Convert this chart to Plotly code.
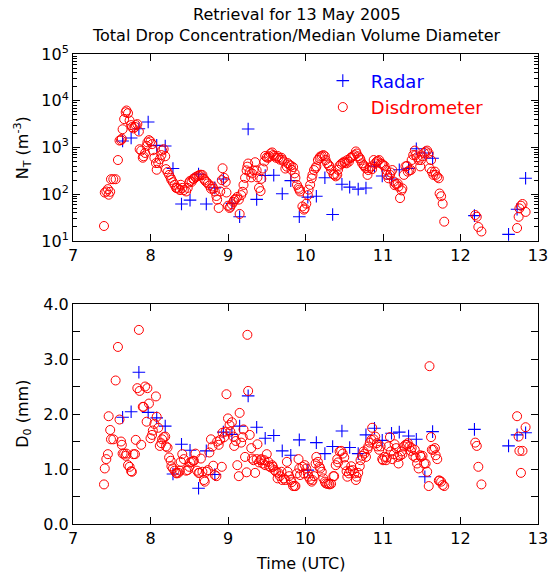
import plotly.graph_objects as go

# ---------------- data ----------------
radar_time = [7.64, 7.75, 7.85, 7.97, 8.08, 8.19, 8.29, 8.40, 8.51, 8.62,
              8.72, 8.83, 8.94, 9.05, 9.15, 9.26, 9.37, 9.48, 9.59, 9.70,
              9.81, 9.92, 10.03, 10.14, 10.25, 10.35, 10.47, 10.57, 10.68, 10.78,
              10.89, 10.99, 11.11, 11.21, 11.33, 11.43, 11.54, 11.64, 12.18, 12.62,
              12.73, 12.84]
radar_nt = [1380, 1600, 2520, 3520, 1110, 1080, 355, 62, 75, 270,
            62, 137, 212, 64, 33, 2490, 78, 253, 255, 103,
            196, 33, 87, 91, 226, 37, 164, 142, 129, 136,
            400, 246, 212, 335, 358, 945, 765, 590, 35, 13.9,
            48, 220]
radar_d0 = [1.94, 2.04, 2.76, 2.03, 1.93, 1.78, 0.91, 1.45, 1.34, 0.65,
            1.33, 0.90, 1.67, 1.63, 1.78, 2.33, 1.76, 1.56, 1.61, 1.33,
            1.25, 1.53, 0.98, 1.48, 1.28, 1.41, 1.69, 1.39, 1.28, 1.62,
            1.74, 1.52, 1.65, 1.67, 1.60, 1.54, 0.86, 1.68, 1.72, 1.42,
            1.62, 1.66]

disd_time = [
    7.40, 7.41, 7.43, 7.45, 7.46, 7.48, 7.49, 7.52, 7.55, 7.58,
    7.60, 7.62, 7.63, 7.64, 7.66, 7.68, 7.69, 7.71, 7.73, 7.75,
    7.76, 7.78, 7.80, 7.81, 7.83, 7.85, 7.86, 7.88, 7.90, 7.91,
    7.93, 7.95, 7.96, 7.98, 8.00, 8.02, 8.03, 8.05, 8.07, 8.08,
    8.10, 8.12, 8.14, 8.15, 8.17, 8.19, 8.20, 8.22, 8.24, 8.26,
    8.27, 8.29, 8.31, 8.33, 8.34, 8.36, 8.38, 8.39, 8.41, 8.43,
    8.46, 8.48, 8.50, 8.51, 8.53, 8.55, 8.56, 8.58, 8.60, 8.62,
    8.63, 8.65, 8.67, 8.69, 8.70, 8.72, 8.74, 8.76, 8.78, 8.80,
    8.81, 8.83, 8.85, 8.86, 8.88, 8.90, 8.92, 8.93, 8.95, 8.97,
    8.98, 9.00, 9.02, 9.03, 9.05, 9.07, 9.08, 9.10, 9.12, 9.14,
    9.15, 9.17, 9.19, 9.20, 9.22, 9.24, 9.25, 9.26, 9.28, 9.30,
    9.31, 9.33, 9.35, 9.37, 9.38, 9.40, 9.42, 9.43, 9.45, 9.47,
    9.48, 9.50, 9.52, 9.53, 9.55, 9.57, 9.58, 9.60, 9.62, 9.64,
    9.65, 9.67, 9.69, 9.70, 9.72, 9.74, 9.76, 9.77, 9.79, 9.81,
    9.82, 9.84, 9.86, 9.87, 9.89, 9.91, 9.92, 9.93, 9.96, 9.98,
    9.99, 10.01, 10.03, 10.04, 10.06, 10.08, 10.09, 10.11, 10.13, 10.14,
    10.16, 10.18, 10.19, 10.21, 10.23, 10.25, 10.26, 10.28, 10.30, 10.31,
    10.33, 10.36, 10.37, 10.39, 10.41, 10.42, 10.44, 10.46, 10.48, 10.50,
    10.51, 10.53, 10.54, 10.56, 10.58, 10.59, 10.61, 10.63, 10.65, 10.66,
    10.68, 10.70, 10.71, 10.73, 10.75, 10.76, 10.78, 10.80, 10.81, 10.83,
    10.85, 10.86, 10.88, 10.90, 10.92, 10.93, 10.95, 10.97, 10.99, 11.00,
    11.02, 11.04, 11.05, 11.07, 11.09, 11.10, 11.12, 11.14, 11.15, 11.17,
    11.19, 11.20, 11.22, 11.24, 11.25, 11.27, 11.29, 11.31, 11.32, 11.34,
    11.36, 11.37, 11.39, 11.41, 11.42, 11.44, 11.46, 11.48, 11.49, 11.51,
    11.53, 11.55, 11.57, 11.59, 11.60, 11.62, 11.63, 11.65, 11.67, 11.68,
    11.70, 11.72, 11.73, 11.75, 11.77, 11.79,
    12.19, 12.21, 12.23, 12.27,
    12.73, 12.75, 12.76, 12.78, 12.80, 12.84]

disd_nt = [
    21, 109, 115, 129, 98, 113, 210, 210, 210, 540,
    1410, 1440, 1540, 2460, 4050, 5700, 6200, 5430, 3780, 3020,
    2730, 2570, 2760, 3020, 3170, 2200, 920, 860, 605, 650,
    765, 1080, 1290, 1440, 1350, 1180, 875, 605, 465, 335,
    465, 560, 690, 865, 920, 650, 345, 300, 260, 225,
    203, 181, 159, 137, 137, 132, 123, 160, 137, 123,
    115, 137, 179, 193, 184, 214, 214, 231, 242, 248,
    258, 263, 258, 214, 198, 184, 171, 154, 132, 147,
    132, 115, 92, 77, 51, 115, 201, 360, 225, 184,
    109, 57, 51, 54, 61, 69, 76, 80, 88, 77,
    38, 96, 113, 159, 225, 325, 390, 455, 300, 230,
    280, 325, 485, 325, 230, 137, 117, 214, 355, 505,
    660, 615, 605, 650, 750, 785, 690, 660, 605, 660,
    605, 550, 605, 550, 505, 355, 390, 465, 430, 410,
    335, 380, 280, 225, 159, 137, 126, 115, 55, 47,
    50, 63, 96, 126, 159, 220, 260, 330, 365, 395,
    540, 595, 640, 660, 690, 650, 540, 460, 420, 395,
    330, 270, 260, 242, 260, 335, 410, 445, 470, 500,
    475, 460, 540, 500, 595, 615, 650, 690, 825, 745,
    650, 595, 540, 460, 420, 395, 360, 260, 330, 365,
    395, 345, 540, 460, 500, 520, 540, 460, 445, 420,
    405, 330, 260, 220, 260, 292, 330, 187, 157, 165,
    170, 146, 83, 121, 134, 260, 395, 405, 305, 325,
    330, 540, 690, 860, 690, 620, 540, 395, 540, 650,
    765, 825, 860, 750, 360, 540, 305, 260, 305, 260,
    236, 220, 104, 91, 63, 26,
    36, 33, 20, 16,
    19, 33, 50, 57, 62, 42]

disd_d0 = [
    0.72, 1.01, 1.18, 1.27, 1.96, 1.71, 1.54, 1.54, 2.61, 3.22,
    1.90, 1.50, 1.44, 1.28, 1.28, 1.24, 1.28, 1.07, 1.04, 0.96,
    0.95, 1.27, 1.27, 1.53, 2.47, 3.53, 2.42, 1.44, 2.13, 2.13,
    2.50, 1.86, 2.47, 2.19, 1.56, 1.62, 1.70, 1.82, 2.32, 1.95,
    1.75, 1.42, 1.47, 1.54, 1.58, 1.59, 1.41, 1.39, 1.21, 1.15,
    1.05, 1.01, 0.97, 0.93, 0.92, 0.93, 0.97, 1.13, 1.27, 1.18,
    0.97, 0.98, 1.04, 1.12, 1.13, 1.15, 1.15, 1.28, 0.97, 0.93,
    0.93, 1.19, 0.95, 0.80, 0.77, 0.95, 0.98, 1.30, 1.54, 1.41,
    1.06, 0.89, 0.87, 1.50, 1.44, 1.53, 1.04, 1.66, 1.58, 1.68,
    2.36, 1.92, 1.80, 1.68, 1.85, 1.59, 1.42, 1.51, 1.07, 0.87,
    2.02, 1.48, 1.58, 1.72, 1.22, 0.94, 3.44, 2.42, 1.62, 1.38,
    1.19, 1.16, 0.93, 1.18, 1.45, 1.12, 1.16, 1.18, 1.10, 1.16,
    1.07, 1.27, 1.13, 1.05, 1.03, 1.07, 1.04, 0.98, 0.95, 0.83,
    0.93, 0.87, 0.95, 0.80, 0.83, 0.80, 1.13, 0.95, 0.87, 0.80,
    0.76, 0.69, 0.69, 0.69, 0.92, 1.18, 1.01, 0.89, 1.04, 0.92,
    1.07, 1.01, 0.92, 0.86, 0.81, 0.77, 0.80, 0.87, 1.10, 1.22,
    1.13, 1.04, 1.01, 0.95, 0.83, 0.77, 0.74, 0.73, 0.73, 0.72,
    0.73, 0.87, 0.87, 1.07, 1.18, 1.12, 1.32, 1.33, 1.28, 1.21,
    1.07, 0.96, 0.86, 0.92, 0.97, 1.05, 0.98, 0.92, 0.80, 0.86,
    0.93, 1.05, 1.16, 1.24, 1.32, 1.28, 1.22, 1.36, 1.41, 1.48,
    1.53, 1.75, 1.54, 1.59, 1.47, 1.41, 1.35, 1.41, 1.18, 1.16,
    1.22, 1.16, 1.21, 1.41, 1.58, 1.32, 1.18, 1.27, 1.45, 1.38,
    1.22, 1.10, 1.24, 1.32, 1.27, 1.41, 1.44, 1.44, 1.47, 1.41,
    1.33, 1.38, 1.24, 1.35, 1.21, 1.10, 1.01, 1.25, 1.22, 1.24,
    1.10, 1.10, 0.95, 0.69, 2.87, 1.58, 1.35, 1.35, 1.38, 1.25,
    1.18, 0.79, 0.79, 0.77, 0.71, 0.69,
    1.48, 1.42, 1.04, 0.72,
    1.96, 1.59, 1.33, 0.93, 1.33, 1.76]

x_ticks = [7, 8, 9, 10, 11, 12, 13]
nt_ticks = [10, 100, 1000, 10000, 100000]
nt_ticktext = ["10<sup>1</sup>", "10<sup>2</sup>", "10<sup>3</sup>", "10<sup>4</sup>", "10<sup>5</sup>"]
d0_ticks = [0, 1, 2, 3, 4]
d0_ticktext = ["0.0", "1.0", "2.0", "3.0", "4.0"]

# ---------------- figure ----------------
FONT = "DejaVu Sans"
BLUE = "#0000ff"
RED = "#ff0000"

fig = go.Figure()

radar_marker = dict(symbol="cross-thin", size=9, color=BLUE, line=dict(color=BLUE, width=1.1))
disd_marker = dict(symbol="circle-open", size=9, color=RED, line=dict(color=RED, width=1))

fig.add_trace(go.Scatter(x=radar_time, y=radar_nt, mode="markers", marker=radar_marker,
                         name="<span style='color:#0000ff'>Radar</span>", xaxis="x", yaxis="y"))
fig.add_trace(go.Scatter(x=disd_time, y=disd_nt, mode="markers", marker=disd_marker,
                         name="<span style='color:#ff0000'>Disdrometer</span>", xaxis="x", yaxis="y"))
fig.add_trace(go.Scatter(x=radar_time, y=radar_d0, mode="markers", marker=radar_marker,
                         showlegend=False, xaxis="x2", yaxis="y2"))
fig.add_trace(go.Scatter(x=disd_time, y=disd_d0, mode="markers", marker=disd_marker,
                         showlegend=False, xaxis="x2", yaxis="y2"))

minor_log = [k * 10 ** n for n in range(1, 5) for k in range(2, 10)]


def axis_style(**extra):
    d = dict(showline=True, linecolor="black", linewidth=1, mirror="ticks",
             ticks="inside", ticklen=7, tickcolor="black", tickwidth=1,
             showgrid=False, zeroline=False,
             tickfont=dict(family=FONT, size=16, color="black"))
    d.update(extra)
    return d


fig.update_layout(
    width=560, height=575,
    margin=dict(l=73, r=15, t=54, b=51),
    paper_bgcolor="white", plot_bgcolor="white",
    font=dict(family=FONT, size=16, color="black"),
    xaxis=axis_style(domain=[0, 1], anchor="y", range=[7, 13], tickvals=x_ticks),
    yaxis=axis_style(domain=[0.602, 1], anchor="x", type="log", range=[1, 5],
                     tickvals=nt_ticks, ticktext=nt_ticktext,
                     minor=dict(ticks="inside", ticklen=4, tickcolor="black", tickwidth=1,
                                tickvals=minor_log, showgrid=False)),
    xaxis2=axis_style(domain=[0, 1], anchor="y2", range=[7, 13], tickvals=x_ticks),
    yaxis2=axis_style(domain=[0, 0.468], anchor="x2", range=[0, 4],
                      tickvals=d0_ticks, ticktext=d0_ticktext,
                      minor=dict(ticks="inside", ticklen=7, tickcolor="black", tickwidth=1,
                                 dtick=0.5, showgrid=False)),
    legend=dict(x=0.52, y=0.982, xanchor="left", yanchor="top",
                bgcolor="rgba(0,0,0,0)", borderwidth=0,
                font=dict(family=FONT, size=18), itemwidth=46, tracegroupgap=0),
    showlegend=True,
)

fig.add_annotation(text="Retrieval for 13 May 2005", xref="paper", yref="paper",
                   x=0.481, y=1.085, yanchor="middle", showarrow=False, font=dict(family=FONT, size=16))
fig.add_annotation(text="Total Drop Concentration/Median Volume Diameter", xref="paper", yref="paper",
                   x=0.481, y=1.040, yanchor="middle", showarrow=False, font=dict(family=FONT, size=16))
fig.add_annotation(text="N<sub>T</sub> (m<sup>-3</sup>)", xref="paper", yref="paper",
                   x=-0.108, y=0.801, xanchor="center", yanchor="middle", textangle=-90,
                   showarrow=False, font=dict(family=FONT, size=16))
fig.add_annotation(text="D<sub>0</sub> (mm)", xref="paper", yref="paper",
                   x=-0.108, y=0.234, xanchor="center", yanchor="middle", textangle=-90,
                   showarrow=False, font=dict(family=FONT, size=16))
fig.add_annotation(text="Time (UTC)", xref="paper", yref="paper",
                   x=0.49, y=-0.083, yanchor="middle", showarrow=False, font=dict(family=FONT, size=16))

fig.write_html("out.html")
